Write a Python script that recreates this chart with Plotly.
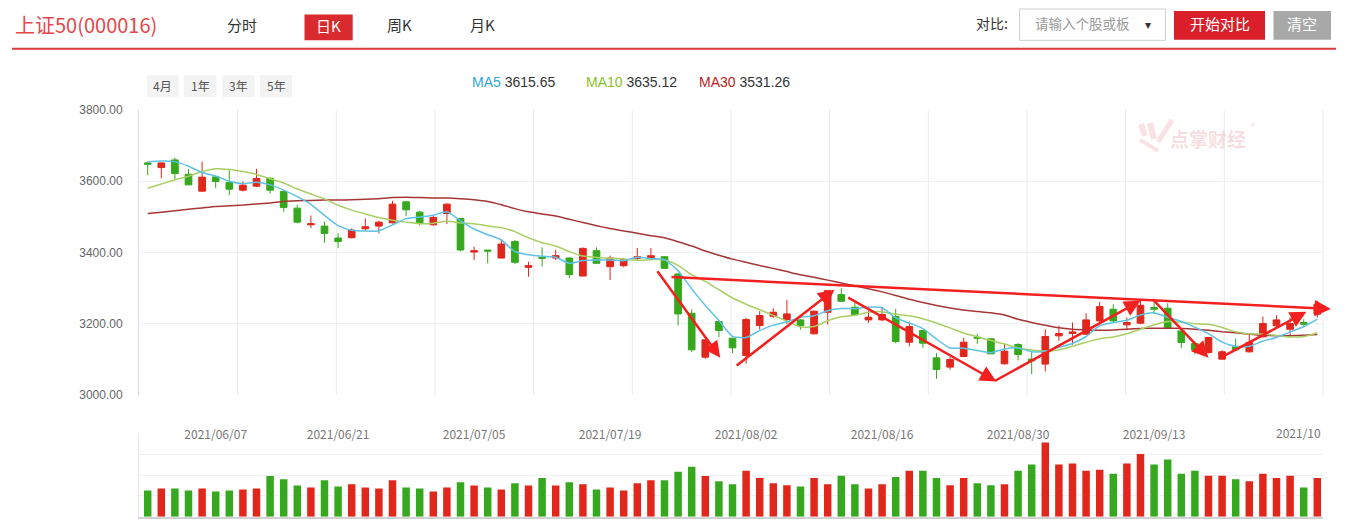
import plotly.graph_objects as go

W, H = 1349, 529


def px(x):
    return x / W


def py(y):
    # vertical pixel position (measured on the reference) -> paper fraction
    return 1 - ((y - 4.5) / 0.978) / H


# ---------------- data ----------------
dates = [
    "2021/05/31",
    "2021/06/01", "2021/06/02", "2021/06/03", "2021/06/04", "2021/06/07", "2021/06/08", "2021/06/09",
    "2021/06/10", "2021/06/11", "2021/06/15", "2021/06/16", "2021/06/17", "2021/06/18", "2021/06/21",
    "2021/06/22", "2021/06/23", "2021/06/24", "2021/06/25", "2021/06/28", "2021/06/29", "2021/06/30",
    "2021/07/01", "2021/07/02", "2021/07/05", "2021/07/06", "2021/07/07", "2021/07/08", "2021/07/09",
    "2021/07/12", "2021/07/13", "2021/07/14", "2021/07/15", "2021/07/16", "2021/07/19", "2021/07/20",
    "2021/07/21", "2021/07/22", "2021/07/23", "2021/07/26", "2021/07/27", "2021/07/28", "2021/07/29",
    "2021/07/30",
    "2021/08/02", "2021/08/03", "2021/08/04", "2021/08/05", "2021/08/06", "2021/08/09", "2021/08/10",
    "2021/08/11", "2021/08/12", "2021/08/13", "2021/08/16", "2021/08/17", "2021/08/18", "2021/08/19",
    "2021/08/20", "2021/08/23", "2021/08/24", "2021/08/25", "2021/08/26", "2021/08/27", "2021/08/30",
    "2021/08/31",
    "2021/09/01", "2021/09/02", "2021/09/03", "2021/09/06", "2021/09/07", "2021/09/08", "2021/09/09",
    "2021/09/10", "2021/09/13", "2021/09/14", "2021/09/15", "2021/09/16", "2021/09/17", "2021/09/22",
    "2021/09/23", "2021/09/24", "2021/09/27", "2021/09/28", "2021/09/29", "2021/09/30",
    "2021/10/08",
]

opens = [
    3651.4, 3638.3, 3659.8, 3619.6, 3572.0, 3612.1, 3596.3, 3574.8, 3586.0, 3608.4,
    3571.0, 3524.3, 3477.6, 3473.8, 3440.2, 3441.1, 3466.4, 3473.8, 3483.2, 3542.0,
    3513.1, 3477.6, 3509.3, 3495.3, 3400.9, 3406.5, 3384.1, 3430.8, 3357.9, 3386.0,
    3384.1, 3384.1, 3333.6, 3404.7, 3359.8, 3362.6, 3383.2, 3383.2, 3387.9, 3339.3,
    3228.9, 3105.6, 3205.6, 3158.9, 3110.3, 3194.4, 3220.6, 3211.2, 3210.3, 3171.0,
    3231.8, 3281.3, 3245.8, 3210.3, 3210.3, 3219.6, 3147.7, 3180.4, 3103.7, 3077.6,
    3107.5, 3161.7, 3157.0, 3086.9, 3141.1, 3100.0, 3086.0, 3165.4, 3172.0, 3170.1,
    3207.5, 3240.2, 3196.3, 3200.9, 3244.9, 3243.0, 3179.4, 3143.9, 3118.7, 3100.0,
    3134.6, 3120.6, 3162.6, 3193.5, 3184.1, 3202.8, 3226.2,
]
highs = [
    3653.5, 3652.5, 3666.4, 3634.6, 3655.1, 3613.0, 3633.6, 3599.1, 3634.6, 3610.3,
    3574.8, 3533.6, 3503.7, 3486.0, 3454.2, 3468.2, 3495.3, 3488.8, 3544.9, 3544.9,
    3516.8, 3503.7, 3537.5, 3496.5, 3415.9, 3407.0, 3434.6, 3434.6, 3373.8, 3414.0,
    3407.5, 3386.0, 3414.0, 3414.0, 3390.7, 3384.1, 3412.1, 3412.1, 3389.7, 3341.1,
    3240.2, 3155.0, 3208.4, 3160.0, 3215.9, 3234.6, 3243.0, 3266.4, 3213.1, 3236.4,
    3293.5, 3299.1, 3259.8, 3236.4, 3245.8, 3241.1, 3205.6, 3182.2, 3116.8, 3105.6,
    3159.8, 3171.0, 3158.0, 3143.0, 3144.9, 3123.4, 3184.1, 3193.5, 3202.8, 3229.0,
    3260.7, 3254.2, 3216.8, 3263.6, 3258.9, 3257.0, 3184.1, 3149.5, 3162.6, 3125.2,
    3157.9, 3170.1, 3219.6, 3223.4, 3216.8, 3212.1, 3263.6,
]
lows = [
    3616.8, 3608.4, 3605.6, 3588.8, 3571.0, 3580.4, 3560.7, 3571.0, 3583.2, 3565.4,
    3514.0, 3481.3, 3468.2, 3427.1, 3412.1, 3439.2, 3460.7, 3453.3, 3481.3, 3501.9,
    3475.7, 3474.8, 3479.4, 3402.8, 3378.5, 3369.2, 3383.5, 3367.3, 3331.8, 3359.8,
    3378.5, 3328.0, 3333.0, 3367.3, 3322.4, 3357.9, 3378.5, 3378.5, 3353.3, 3194.4,
    3119.6, 3100.9, 3161.7, 3116.8, 3086.9, 3183.2, 3215.9, 3199.1, 3183.2, 3169.2,
    3197.2, 3262.0, 3223.5, 3201.9, 3206.5, 3144.9, 3135.5, 3131.8, 3044.9, 3070.1,
    3105.6, 3143.0, 3113.1, 3085.0, 3096.3, 3058.0, 3065.4, 3151.4, 3140.2, 3168.2,
    3202.8, 3202.8, 3181.3, 3198.1, 3226.2, 3184.1, 3130.8, 3114.0, 3115.9, 3099.0,
    3123.4, 3118.7, 3160.7, 3188.8, 3162.6, 3193.5, 3216.8,
]
closes = [
    3647.7, 3651.4, 3621.5, 3589.7, 3611.2, 3599.1, 3577.6, 3588.8, 3607.5, 3574.8,
    3526.2, 3485.0, 3480.4, 3453.3, 3430.8, 3462.6, 3472.0, 3485.0, 3535.5, 3519.6,
    3483.2, 3498.1, 3535.5, 3406.5, 3404.7, 3403.7, 3423.4, 3372.0, 3362.6, 3383.2,
    3390.7, 3337.4, 3411.2, 3369.2, 3384.1, 3379.4, 3387.9, 3390.7, 3355.1, 3227.1,
    3126.2, 3154.2, 3180.4, 3131.8, 3211.2, 3222.4, 3231.8, 3227.1, 3194.4, 3234.6,
    3292.5, 3262.6, 3224.3, 3217.8, 3225.2, 3149.5, 3191.6, 3144.9, 3071.0, 3099.1,
    3147.7, 3158.9, 3115.0, 3122.4, 3113.1, 3095.3, 3163.6, 3172.0, 3176.6, 3210.3,
    3247.7, 3207.5, 3202.8, 3251.4, 3240.2, 3186.9, 3146.7, 3125.2, 3160.7, 3120.6,
    3126.2, 3146.7, 3200.0, 3210.3, 3200.0, 3198.1, 3254.2,
]
volume = [
    31.4, 33.9, 33.9, 31.4, 33.9, 30.2, 31.4, 32.6, 33.9, 48.8,
    45.1, 37.5, 35.1, 43.9, 36.3, 39.1, 35.1, 33.9, 43.9, 35.1,
    33.9, 30.2, 35.1, 41.5, 37.5, 35.1, 32.6, 40.3, 37.5, 46.4,
    37.5, 41.5, 39.1, 32.6, 35.1, 31.4, 40.3, 43.9, 43.9, 54.0,
    60.1, 48.8, 42.7, 39.1, 55.2, 46.4, 40.3, 37.9, 36.3, 46.4,
    39.1, 49.2, 39.1, 33.9, 39.1, 47.6, 55.2, 55.2, 46.4, 37.9,
    46.4, 40.3, 37.9, 39.1, 55.2, 62.9, 89.1, 62.9, 64.1, 55.2,
    56.4, 51.6, 64.1, 75.4, 62.9, 68.9, 51.6, 55.2, 49.2, 49.2,
    45.1, 42.7, 51.6, 46.4, 49.2, 35.1, 46.4,
]
ma5 = [
    3654.0, 3657.0, 3655.0, 3642.0, 3624.3, 3614.6, 3599.8, 3593.3, 3596.8, 3589.6,
    3575.0, 3556.5, 3534.8, 3503.9, 3475.1, 3462.4, 3459.8, 3460.7, 3477.2, 3494.9,
    3499.1, 3504.3, 3514.4, 3488.6, 3465.6, 3449.7, 3434.8, 3402.1, 3393.3, 3389.0,
    3386.4, 3369.2, 3377.0, 3378.3, 3378.5, 3376.3, 3386.4, 3382.3, 3379.4, 3348.0,
    3297.4, 3250.7, 3208.6, 3163.9, 3160.8, 3180.0, 3195.5, 3204.9, 3217.4, 3222.1,
    3236.1, 3242.2, 3241.7, 3246.4, 3244.5, 3215.9, 3201.7, 3185.8, 3156.4, 3131.2,
    3130.9, 3124.3, 3118.3, 3128.6, 3131.4, 3120.9, 3121.9, 3133.3, 3144.1, 3163.6,
    3194.0, 3202.8, 3209.0, 3223.9, 3229.9, 3217.8, 3205.6, 3190.1, 3171.9, 3148.0,
    3135.9, 3135.9, 3150.8, 3160.8, 3176.6, 3191.0, 3212.5,
]
ma10 = [
    3580.0, 3592.0, 3604.0, 3614.0, 3627.0, 3635.0, 3633.0, 3627.0, 3619.0, 3606.9,
    3594.8, 3578.1, 3564.0, 3550.4, 3532.4, 3518.7, 3508.1, 3497.8, 3490.6, 3485.0,
    3480.7, 3482.1, 3487.6, 3482.9, 3480.3, 3474.4, 3469.5, 3458.2, 3440.9, 3427.3,
    3418.0, 3402.0, 3389.5, 3385.8, 3383.8, 3381.3, 3377.8, 3379.6, 3378.9, 3363.3,
    3336.8, 3318.5, 3295.4, 3271.7, 3254.4, 3238.7, 3223.1, 3206.7, 3190.7, 3191.4,
    3208.0, 3218.9, 3223.3, 3231.9, 3233.3, 3226.0, 3222.0, 3213.7, 3201.4, 3187.9,
    3173.4, 3163.0, 3152.1, 3142.5, 3131.3, 3125.9, 3123.1, 3125.8, 3136.4, 3147.5,
    3157.5, 3162.4, 3171.1, 3184.0, 3196.7, 3205.9, 3204.2, 3199.5, 3197.9, 3188.9,
    3176.8, 3170.7, 3170.5, 3166.4, 3162.3, 3163.5, 3174.2,
]
ma30 = [
    3509, 3513, 3517, 3521, 3525, 3529, 3531, 3533, 3536, 3539,
    3543, 3545, 3546, 3547, 3547, 3548, 3549, 3551, 3554, 3555,
    3554, 3553, 3553, 3551, 3548, 3543, 3534, 3523, 3514, 3508,
    3502, 3493, 3484, 3475, 3467, 3460, 3454, 3447, 3441, 3430,
    3418, 3404, 3392, 3381, 3372, 3363, 3355, 3346, 3337, 3330,
    3322, 3314, 3306, 3298, 3289, 3279, 3268, 3259, 3251, 3244,
    3238, 3234, 3230, 3224, 3212, 3203, 3195, 3188, 3184, 3182,
    3181, 3182, 3184, 3186, 3187, 3187, 3186, 3184, 3181, 3177,
    3174, 3170, 3167, 3166, 3166, 3167, 3169,
]
date_ticks = ["2021/06/07", "2021/06/21", "2021/07/05", "2021/07/19",
              "2021/08/02", "2021/08/16", "2021/08/30", "2021/09/13"]
last_tick_text = "2021/10"
price_ticks = [3000, 3200, 3400, 3600, 3800]
legend_items = [("MA5", "3615.65"), ("MA10", "3635.12"), ("MA30", "3531.26")]
period_buttons = ["4月", "1年", "3年", "5年"]

# hand-drawn trend arrows: (tail index, tail price, head index, head price)
arrows = [
    (37.4, 3351, 42.1, 3104),
    (43.2, 3079, 50.5, 3295),
    (51.4, 3275, 62.4, 3037),
    (62.2, 3037, 73.0, 3264),
    (73.8, 3272, 78.0, 3104),
    (78.9, 3104, 85.2, 3233),
    (38.4, 3331, 87.0, 3241),
]

# ---------------- styles ----------------
RED = "#e1261c"
GREEN = "#35a81d"
C_MA5 = "#5cc3e6"
C_MA10 = "#a9cf62"
C_MA30 = "#a63636"
ARROW = "#f42020"
CN = "Noto Sans CJK SC"
LAT = "Liberation Sans"

XD = [px(139), px(1323)]
XR = [-0.64, 86.42]

vol_colors = [RED if c >= o else GREEN for o, c in zip(opens, closes)]

fig = go.Figure()
fig.add_trace(go.Candlestick(
    x=dates, open=opens, high=highs, low=lows, close=closes,
    increasing=dict(line=dict(color=RED, width=1), fillcolor=RED),
    decreasing=dict(line=dict(color=GREEN, width=1), fillcolor=GREEN),
    whiskerwidth=0, xaxis="x", yaxis="y", hoverinfo="skip", showlegend=False,
))
for vals, col in [(ma30, C_MA30), (ma10, C_MA10), (ma5, C_MA5)]:
    fig.add_trace(go.Scatter(
        x=dates, y=vals, mode="lines", xaxis="x", yaxis="y",
        line=dict(color=col, width=1.5, shape="spline", smoothing=0.6),
        hoverinfo="skip", showlegend=False,
    ))
fig.add_trace(go.Bar(
    x=dates, y=volume, marker=dict(color=vol_colors, line=dict(width=0)),
    width=0.55, xaxis="x2", yaxis="y2", hoverinfo="skip", showlegend=False,
))

shapes = []
# vertical grid of the price panel
for k in range(1, 13):
    shapes.append(dict(type="line", xref="x domain", yref="y domain", x0=k / 12, x1=k / 12,
                       y0=0, y1=1, line=dict(color="#e8ecf3", width=1), layer="below"))
# header red rule
shapes.append(dict(type="line", xref="paper", yref="paper", x0=px(12), x1=px(1336),
                   y0=py(46.5), y1=py(46.5), line=dict(color="#e4393c", width=2)))
# 日K button
shapes.append(dict(type="rect", xref="paper", yref="paper", x0=px(304.5), x1=px(352.7),
                   y0=py(38), y1=py(12), fillcolor="#d92b2f", line=dict(width=0)))
# compare input box
shapes.append(dict(type="rect", xref="paper", yref="paper", x0=px(1019.5), x1=px(1165.5),
                   y0=py(38), y1=py(6.5), fillcolor="white", line=dict(color="#cfcfcf", width=1)))
# 开始对比 / 清空 buttons
shapes.append(dict(type="rect", xref="paper", yref="paper", x0=px(1174), x1=px(1265),
                   y0=py(37.5), y1=py(8.5), fillcolor="#db1f2a", line=dict(width=0)))
shapes.append(dict(type="rect", xref="paper", yref="paper", x0=px(1273.5), x1=px(1331),
                   y0=py(37.5), y1=py(8.5), fillcolor="#a8a8a8", line=dict(width=0)))
# period buttons
btn_x = [(147, 178.6), (184, 216.5), (222, 254.5), (260, 292)]
for (a, b) in btn_x:
    shapes.append(dict(type="rect", xref="paper", yref="paper", x0=px(a), x1=px(b),
                       y0=py(95), y1=py(73), fillcolor="#f3f3f3", line=dict(width=0)))
# watermark logo strokes
wm = "rgba(226,120,130,0.22)"
for (x0, y0, x1, y1, w) in [(1141, 122, 1145, 134, 6), (1150, 121, 1154, 137, 6),
                             (1158, 140, 1172, 118, 5), (1140, 138, 1158, 149, 4)]:
    shapes.append(dict(type="line", xref="paper", yref="paper", x0=px(x0), x1=px(x1),
                       y0=py(y0), y1=py(y1), line=dict(color=wm, width=w)))

ann = []


def txt(x, y, s, size, color, family=CN, xanchor="left"):
    ann.append(dict(x=px(x), y=py(y), xref="paper", yref="paper", text=s, showarrow=False,
                    xanchor=xanchor, yanchor="middle", font=dict(size=size, color=color, family=family)))


txt(13, 22.5, "上证50(000016)", 20, "#e4474a")
txt(241.5, 22.5, "分时", 15, "#333333", xanchor="center")
txt(328.6, 23, "日K", 15, "#ffffff", xanchor="center")
txt(399, 22.5, "周K", 15, "#333333", xanchor="center")
txt(482.5, 22.5, "月K", 15, "#333333", xanchor="center")
txt(992, 21, "对比:", 14, "#333333", xanchor="center")
txt(1033, 21, "请输入个股或板", 13.5, "#9a9a9a")
txt(1148, 21.5, "▾", 12, "#333333", xanchor="center")
txt(1219.5, 21.5, "开始对比", 15, "#ffffff", xanchor="center")
txt(1302, 21.5, "清空", 15, "#ffffff", xanchor="center")
for (a, b), s in zip(btn_x, period_buttons):
    txt((a + b) / 2, 83, s, 12, "#555555", xanchor="center")
for (name, val), col, x in zip(legend_items, ["#2ea7d6", "#8cbf26", "#b52424"], [470, 584, 697]):
    txt(x, 79.5, f'<span style="color:{col}">{name}</span> {val}', 14, "#333333", family=LAT)
txt(1208, 137, "<b>点掌财经</b>", 19, "rgba(226,120,130,0.25)", xanchor="center")
txt(1253, 124, "®", 8, "rgba(226,120,130,0.35)", xanchor="center")
# last (clipped) date label of the time axis
ann.append(dict(x=1.0, y=py(432), xref="x domain", yref="paper", text=last_tick_text, showarrow=False,
                xanchor="right", yanchor="middle", font=dict(size=12, color="#777777", family=CN)))

for (ti, tp, hi, hp) in arrows:
    ann.append(dict(x=hi, y=hp, ax=ti, ay=tp, xref="x", yref="y", axref="x", ayref="y",
                    text="", showarrow=True, arrowhead=2, arrowsize=1.3, arrowwidth=2.5,
                    arrowcolor=ARROW, standoff=0, startstandoff=0))

fig.update_layout(
    width=W, height=H,
    margin=dict(l=0, r=0, t=0, b=0),
    paper_bgcolor="white", plot_bgcolor="white",
    hovermode=False, showlegend=False, boxgap=0.3,
    xaxis=dict(domain=XD, type="category", range=XR, anchor="y",
               tickmode="array", tickvals=date_ticks, ticktext=date_ticks,
               ticks="outside", ticklen=29, tickcolor="rgba(0,0,0,0)",
               tickfont=dict(size=12, color="#777777", family=CN),
               showgrid=False, zeroline=False, showline=False,
               rangeslider=dict(visible=False), fixedrange=True),
    yaxis=dict(domain=[py(394), py(108)], range=[3000, 3800], anchor="x",
               tickmode="array", tickvals=price_ticks, tickformat=".2f",
               ticks="outside", ticklen=13, tickcolor="rgba(0,0,0,0)",
               tickfont=dict(size=12, color="#666666", family=LAT),
               showgrid=True, gridcolor="#eef1f5", gridwidth=1, zeroline=False,
               showline=True, linecolor="#d5dcea", linewidth=1, fixedrange=True),
    xaxis2=dict(domain=XD, type="category", range=XR, anchor="y2", matches="x",
                showticklabels=False, ticks="", showgrid=False, zeroline=False,
                showline=True, linecolor="#d2d2d2", linewidth=2, fixedrange=True),
    yaxis2=dict(domain=[py(516.5), py(433)], range=[0, 100], anchor="x2",
                tickmode="linear", tick0=0, dtick=25, showticklabels=False, ticks="",
                showgrid=True, gridcolor="#eef1f5", zeroline=False,
                showline=True, linecolor="#e3e8f0", linewidth=1, fixedrange=True),
    shapes=shapes,
    annotations=ann,
)

fig.write_html("out.html", config={"displayModeBar": False})
